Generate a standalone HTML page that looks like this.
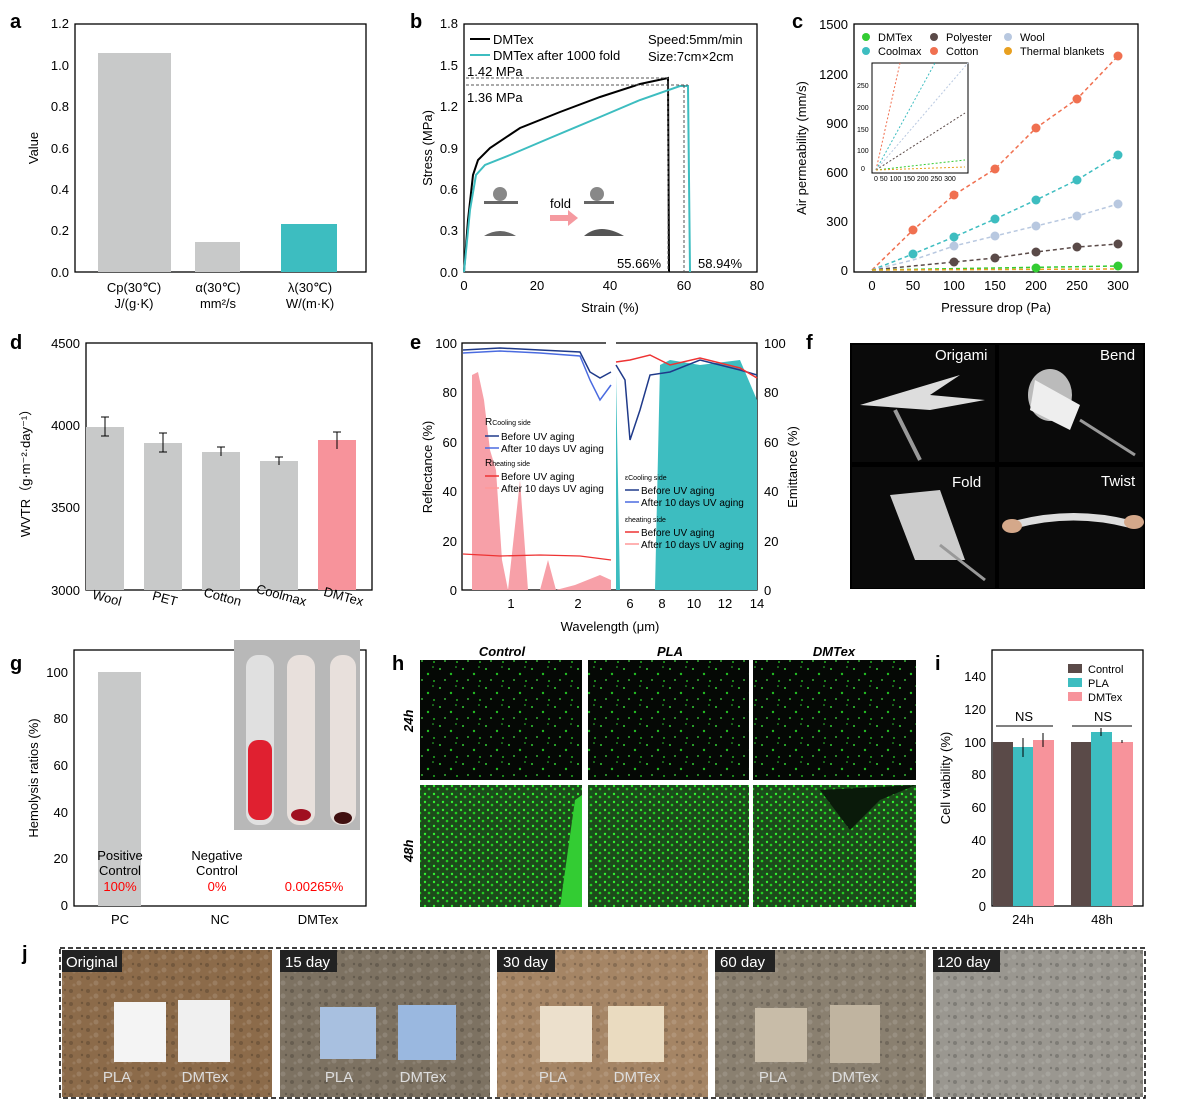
<!DOCTYPE html>
<html><head><meta charset="utf-8"><style>
body{margin:0;background:#fff}
svg{display:block;font-family:"Liberation Sans",Arial,sans-serif}
.t{font-size:13px}.s{font-size:11px}.L{font-size:20px;font-weight:bold}
</style></head><body>
<svg width="1187" height="1108" viewBox="0 0 1187 1108" xmlns="http://www.w3.org/2000/svg">
<defs>
<pattern id="sp" width="23" height="19" patternUnits="userSpaceOnUse">
<rect width="23" height="19" fill="#050805"/>
<circle cx="3" cy="4" r="1" fill="#3c3"/><circle cx="14" cy="9" r="1.2" fill="#2b2"/><circle cx="8" cy="15" r="0.9" fill="#4d4"/><circle cx="19" cy="2" r="0.8" fill="#3c3"/><circle cx="20" cy="16" r="1" fill="#2a2"/>
</pattern>
<pattern id="sp2" width="9" height="8" patternUnits="userSpaceOnUse">
<rect width="9" height="8" fill="#1d4a1a"/>
<circle cx="2" cy="2" r="1.2" fill="#3e3"/><circle cx="6" cy="5" r="1.3" fill="#2c2"/><circle cx="7" cy="1" r="0.8" fill="#062"/>
</pattern>
<pattern id="soil" width="17" height="13" patternUnits="userSpaceOnUse">
<rect width="17" height="13" fill="#000" fill-opacity="0"/>
<circle cx="3" cy="3" r="2" fill="#000" fill-opacity="0.18"/><circle cx="11" cy="8" r="2.5" fill="#fff" fill-opacity="0.12"/><circle cx="14" cy="2" r="1.2" fill="#000" fill-opacity="0.2"/><circle cx="6" cy="10" r="1.5" fill="#fff" fill-opacity="0.1"/>
</pattern>
</defs>
<g stroke="#000" fill="none" stroke-width="1.3">
<rect x="75" y="24" width="291" height="248"/>
<rect x="464" y="24" width="293" height="248"/>
<rect x="854" y="24" width="284" height="248"/>
<rect x="86" y="343" width="286" height="247"/>
<rect x="462" y="343" width="295" height="247"/>
<rect x="74" y="650" width="292" height="256"/>
<rect x="992" y="650" width="151" height="256"/>
</g>
<!-- a -->
<text x="10" y="28" class="L">a</text>
<rect x="98" y="53" width="73" height="219" fill="#c8c9c9"/>
<rect x="195" y="242" width="45" height="30" fill="#c8c9c9"/>
<rect x="281" y="224" width="56" height="48" fill="#3dbdc0"/>
<g class="t" text-anchor="end"><text x="69" y="28">1.2</text><text x="69" y="70">1.0</text><text x="69" y="111">0.8</text><text x="69" y="153">0.6</text><text x="69" y="194">0.4</text><text x="69" y="235">0.2</text><text x="69" y="277">0.0</text></g>
<text transform="translate(38,148) rotate(-90)" class="t" text-anchor="middle">Value</text>
<g class="t" text-anchor="middle"><text x="134" y="292">Cp(30℃)</text><text x="134" y="308">J/(g·K)</text><text x="218" y="292">α(30℃)</text><text x="218" y="308">mm²/s</text><text x="310" y="292">λ(30℃)</text><text x="310" y="308">W/(m·K)</text></g>
<!-- b -->
<text x="410" y="28" class="L">b</text>
<g class="t" text-anchor="end"><text x="458" y="28">1.8</text><text x="458" y="70">1.5</text><text x="458" y="111">1.2</text><text x="458" y="153">0.9</text><text x="458" y="194">0.6</text><text x="458" y="235">0.3</text><text x="458" y="277">0.0</text></g>
<g class="t" text-anchor="middle"><text x="464" y="290">0</text><text x="537" y="290">20</text><text x="610" y="290">40</text><text x="684" y="290">60</text><text x="757" y="290">80</text><text x="610" y="312">Strain (%)</text></g>
<text transform="translate(432,148) rotate(-90)" class="t" text-anchor="middle">Stress (MPa)</text>
<path d="M464 272 L468 220 L473 175 L478 160 L490 148 L520 128 L560 112 L600 97 L640 84 L668 78 L669 272" stroke="#000" stroke-width="2" fill="none"/>
<path d="M464 272 L470 210 L476 175 L485 165 L510 155 L550 138 L600 117 L640 100 L680 86 L688 86 L690 272" stroke="#3dbdc0" stroke-width="2" fill="none"/>
<g stroke="#555" stroke-dasharray="3,2" fill="none"><path d="M466 78H668V272M466 85H688M684 85V272"/></g>
<text x="467" y="76" class="t">1.42 MPa</text><text x="467" y="102" class="t">1.36 MPa</text>
<text x="617" y="268" class="t">55.66%</text><text x="698" y="268" class="t">58.94%</text>
<line x1="470" y1="39" x2="490" y2="39" stroke="#000" stroke-width="2"/><text x="493" y="44" class="t">DMTex</text>
<line x1="470" y1="55" x2="490" y2="55" stroke="#3dbdc0" stroke-width="2"/><text x="493" y="60" class="t">DMTex after 1000 fold</text>
<text x="648" y="44" class="t">Speed:5mm/min</text><text x="648" y="61" class="t">Size:7cm×2cm</text>
<circle cx="500" cy="194" r="7" fill="#888"/><rect x="484" y="201" width="34" height="3" fill="#666"/><path d="M484 236Q500 226 516 236Z" fill="#666"/>
<text x="550" y="208" class="t">fold</text><path d="M550 215h18v-5l10 8-10 8v-5h-18z" fill="#f59aa0"/>
<circle cx="597" cy="194" r="7" fill="#888"/><rect x="584" y="201" width="30" height="3" fill="#666"/><path d="M584 236Q600 222 624 236Z" fill="#555"/>
<!-- c -->
<text x="792" y="28" class="L">c</text>
<g class="t" text-anchor="end"><text x="848" y="29">1500</text><text x="848" y="79">1200</text><text x="848" y="128">900</text><text x="848" y="177">600</text><text x="848" y="226">300</text><text x="848" y="275">0</text></g>
<g class="t" text-anchor="middle"><text x="872" y="290">0</text><text x="913" y="290">50</text><text x="954" y="290">100</text><text x="995" y="290">150</text><text x="1036" y="290">200</text><text x="1077" y="290">250</text><text x="1118" y="290">300</text><text x="996" y="312">Pressure drop (Pa)</text></g>
<text transform="translate(806,148) rotate(-90)" class="t" text-anchor="middle">Air permeability (mm/s)</text>
<g stroke-dasharray="4,3" stroke-width="1.5" fill="none">
<path d="M872 270L913 230L954 195L995 169L1036 128L1077 99L1118 56" stroke="#f07050"/>
<path d="M872 270L913 254L954 237L995 219L1036 200L1077 180L1118 155" stroke="#3dbdc0"/>
<path d="M872 270L913 260L954 246L995 236L1036 226L1077 216L1118 204" stroke="#b8c8e0"/>
<path d="M872 270L913 266L954 262L995 258L1036 252L1077 247L1118 244" stroke="#5a4a48"/>
<path d="M872 270L1118 266" stroke="#3c3"/><path d="M872 270L1118 269" stroke="#e8a020"/>
</g>
<g><circle cx="913" cy="230" r="4.5" fill="#f07050"/><circle cx="954" cy="195" r="4.5" fill="#f07050"/><circle cx="995" cy="169" r="4.5" fill="#f07050"/><circle cx="1036" cy="128" r="4.5" fill="#f07050"/><circle cx="1077" cy="99" r="4.5" fill="#f07050"/><circle cx="1118" cy="56" r="4.5" fill="#f07050"/>
<circle cx="913" cy="254" r="4.5" fill="#3dbdc0"/><circle cx="954" cy="237" r="4.5" fill="#3dbdc0"/><circle cx="995" cy="219" r="4.5" fill="#3dbdc0"/><circle cx="1036" cy="200" r="4.5" fill="#3dbdc0"/><circle cx="1077" cy="180" r="4.5" fill="#3dbdc0"/><circle cx="1118" cy="155" r="4.5" fill="#3dbdc0"/>
<circle cx="954" cy="246" r="4.5" fill="#b8c8e0"/><circle cx="995" cy="236" r="4.5" fill="#b8c8e0"/><circle cx="1036" cy="226" r="4.5" fill="#b8c8e0"/><circle cx="1077" cy="216" r="4.5" fill="#b8c8e0"/><circle cx="1118" cy="204" r="4.5" fill="#b8c8e0"/>
<circle cx="954" cy="262" r="4.5" fill="#5a4a48"/><circle cx="995" cy="258" r="4.5" fill="#5a4a48"/><circle cx="1036" cy="252" r="4.5" fill="#5a4a48"/><circle cx="1077" cy="247" r="4.5" fill="#5a4a48"/><circle cx="1118" cy="244" r="4.5" fill="#5a4a48"/>
<circle cx="1118" cy="266" r="4.5" fill="#3c3"/><circle cx="1036" cy="268" r="4.5" fill="#3c3"/></g>
<rect x="872" y="63" width="96" height="110" fill="#fff" stroke="#000"/>
<g stroke-dasharray="2,2" fill="none"><path d="M876 170L900 63" stroke="#f07050"/><path d="M876 170L935 63" stroke="#3dbdc0"/><path d="M876 170L968 63" stroke="#b8c8e0"/><path d="M876 170L965 113" stroke="#5a4a48"/><path d="M876 170L965 160" stroke="#3c3"/><path d="M876 170L965 167" stroke="#e8a020"/></g>
<g style="font-size:7px"><text x="857" y="88">250</text><text x="857" y="110">200</text><text x="857" y="132">150</text><text x="857" y="153">100</text><text x="861" y="171">0</text><text x="874" y="181">0  50 100 150 200 250 300</text></g>
<g class="s"><circle cx="866" cy="37" r="4" fill="#3c3"/><text x="878" y="41">DMTex</text><circle cx="934" cy="37" r="4" fill="#5a4a48"/><text x="946" y="41">Polyester</text><circle cx="1008" cy="37" r="4" fill="#b8c8e0"/><text x="1020" y="41">Wool</text>
<circle cx="866" cy="51" r="4" fill="#3dbdc0"/><text x="878" y="55">Coolmax</text><circle cx="934" cy="51" r="4" fill="#f07050"/><text x="946" y="55">Cotton</text><circle cx="1008" cy="51" r="4" fill="#e8a020"/><text x="1020" y="55">Thermal blankets</text></g>
<!-- d -->
<text x="10" y="349" class="L">d</text>
<g class="t" text-anchor="end"><text x="80" y="348">4500</text><text x="80" y="430">4000</text><text x="80" y="512">3500</text><text x="80" y="595">3000</text></g>
<text transform="translate(30,470) rotate(-90)" class="t" text-anchor="middle">WVTR（g·m⁻²·day⁻¹）</text>
<g fill="#c8c9c9"><rect x="86" y="427" width="38" height="163"/><rect x="144" y="443" width="38" height="147"/><rect x="202" y="452" width="38" height="138"/><rect x="260" y="461" width="38" height="129"/></g>
<rect x="318" y="440" width="38" height="150" fill="#f7939b"/>
<g stroke="#000"><path d="M105 417v19M101 417h8M101 436h8M163 433v19M159 433h8M159 452h8M221 447v9M217 447h8M279 457v8M275 457h8M337 432v17M333 432h8"/></g>
<g class="t" text-anchor="end"><text transform="translate(120,606) rotate(15)">Wool</text><text transform="translate(176,606) rotate(15)">PET</text><text transform="translate(240,606) rotate(15)">Cotton</text><text transform="translate(305,606) rotate(15)">Coolmax</text><text transform="translate(362,606) rotate(15)">DMTex</text></g>
<!-- e -->
<text x="410" y="349" class="L">e</text>
<path d="M472 590V375L478 372L484 400L490 450L496 470L502 560L508 590L520 480L528 590L540 590L548 560L556 590L575 585L600 575L611 580V590Z" fill="#f7a0a8"/>
<path d="M616 590V375L620 590ZM655 590L660 365L670 360L700 365L740 360L757 400V590Z" fill="#3dbdc0"/>
<path d="M463 350L500 348L540 350L580 352L590 372L600 378L611 372" stroke="#1f3a8a" stroke-width="1.5" fill="none"/>
<path d="M463 353L500 351L540 353L580 356L590 380L600 400L611 385" stroke="#4a6be0" stroke-width="1.5" fill="none"/>
<path d="M463 554L500 556L540 555L580 556L611 560" stroke="#e33" stroke-width="1.3" fill="none"/>
<path d="M616 365L625 380L630 440L640 410L650 375L670 372L700 360L740 370L757 375" stroke="#1f3a8a" stroke-width="1.5" fill="none"/>
<path d="M616 362L630 360L650 355L670 365L700 358L740 368L757 378" stroke="#e33" stroke-width="1.5" fill="none"/>
<rect x="606" y="335" width="10" height="14" fill="#fff"/>
<g class="t" text-anchor="end"><text x="457" y="348">100</text><text x="457" y="397">80</text><text x="457" y="447">60</text><text x="457" y="496">40</text><text x="457" y="546">20</text><text x="457" y="595">0</text></g>
<g class="t"><text x="764" y="348">100</text><text x="764" y="397">80</text><text x="764" y="447">60</text><text x="764" y="496">40</text><text x="764" y="546">20</text><text x="764" y="595">0</text></g>
<g class="t" text-anchor="middle"><text x="511" y="608">1</text><text x="578" y="608">2</text><text x="630" y="608">6</text><text x="662" y="608">8</text><text x="694" y="608">10</text><text x="725" y="608">12</text><text x="757" y="608">14</text><text x="610" y="631">Wavelength (μm)</text></g>
<text transform="translate(432,467) rotate(-90)" class="t" text-anchor="middle">Reflectance (%)</text>
<text transform="translate(797,467) rotate(-90)" class="t" text-anchor="middle">Emittance (%)</text>
<g style="font-size:10px"><text x="485" y="425">R<tspan style="font-size:7px">Cooling side</tspan></text><text x="501" y="440">Before UV aging</text><text x="501" y="452">After 10 days UV aging</text>
<text x="485" y="466">R<tspan style="font-size:7px">heating side</tspan></text><text x="501" y="480">Before UV aging</text><text x="501" y="492">After 10 days UV aging</text>
<text x="625" y="480" style="font-size:7px">εCooling side</text><text x="641" y="494">Before UV aging</text><text x="641" y="506">After 10 days UV aging</text>
<text x="625" y="522" style="font-size:7px">εheating side</text><text x="641" y="536">Before UV aging</text><text x="641" y="548">After 10 days UV aging</text></g>
<g stroke-width="1.5"><path d="M485 436h14" stroke="#1f3a8a"/><path d="M485 448h14" stroke="#4a6be0"/><path d="M485 476h14" stroke="#e33"/><path d="M485 488h14" stroke="#f99"/><path d="M625 490h14" stroke="#1f3a8a"/><path d="M625 502h14" stroke="#4a6be0"/><path d="M625 532h14" stroke="#e33"/><path d="M625 544h14" stroke="#f99"/></g>
<!-- f -->
<text x="806" y="349" class="L">f</text>
<rect x="850" y="343" width="295" height="246" fill="#000"/>
<rect x="852" y="345" width="143" height="117" fill="#0a0a0a"/><rect x="999" y="345" width="144" height="117" fill="#0a0a0a"/><rect x="852" y="467" width="143" height="121" fill="#0a0a0a"/><rect x="999" y="467" width="144" height="121" fill="#0a0a0a"/>
<path d="M860 405L960 375L930 395L985 400L930 410Z" fill="#ddd"/><path d="M895 410L920 460" stroke="#999" stroke-width="4"/>
<ellipse cx="1050" cy="395" rx="22" ry="26" fill="#bbb"/><path d="M1035 380L1080 405L1070 430L1030 410Z" fill="#eee"/><path d="M1080 420L1135 455" stroke="#999" stroke-width="3"/>
<path d="M890 495L940 490L965 560L915 560Z" fill="#ccc"/><path d="M940 545L985 580" stroke="#999" stroke-width="3"/>
<path d="M1010 522Q1070 505 1130 520L1130 528Q1070 512 1010 530Z" fill="#ddd"/><ellipse cx="1012" cy="526" rx="10" ry="7" fill="#d4a88a"/><ellipse cx="1134" cy="522" rx="10" ry="7" fill="#d4a88a"/>
<g class="t" fill="#fff" style="font-size:15px"><text x="935" y="360">Origami</text><text x="1100" y="360">Bend</text><text x="952" y="487">Fold</text><text x="1101" y="486">Twist</text></g>
<!-- g -->
<text x="10" y="670" class="L">g</text>
<g class="t" text-anchor="end"><text x="68" y="677">100</text><text x="68" y="723">80</text><text x="68" y="770">60</text><text x="68" y="817">40</text><text x="68" y="863">20</text><text x="68" y="910">0</text></g>
<text transform="translate(38,778) rotate(-90)" class="t" text-anchor="middle">Hemolysis ratios (%)</text>
<rect x="98" y="672" width="43" height="234" fill="#c8c9c9"/>
<rect x="234" y="640" width="126" height="190" fill="#b8b8b8"/>
<rect x="246" y="655" width="28" height="170" rx="12" fill="#e0e0e0"/><rect x="248" y="740" width="24" height="80" rx="10" fill="#e02030"/>
<rect x="287" y="655" width="28" height="170" rx="12" fill="#e8e0dc"/><ellipse cx="301" cy="815" rx="10" ry="6" fill="#a01020"/>
<rect x="330" y="655" width="26" height="170" rx="12" fill="#e8e0dc"/><ellipse cx="343" cy="818" rx="9" ry="6" fill="#401010"/>
<g class="t" text-anchor="middle"><text x="120" y="860">Positive</text><text x="120" y="875">Control</text><text x="217" y="860">Negative</text><text x="217" y="875">Control</text><text x="120" y="924">PC</text><text x="220" y="924">NC</text><text x="318" y="924">DMTex</text></g>
<g class="t" text-anchor="middle" fill="#f00"><text x="120" y="891">100%</text><text x="217" y="891">0%</text><text x="314" y="891">0.00265%</text></g>
<!-- h -->
<text x="392" y="670" class="L">h</text>
<g class="t" font-weight="bold" font-style="italic" text-anchor="middle"><text x="502" y="656">Control</text><text x="670" y="656">PLA</text><text x="834" y="656">DMTex</text></g>
<rect x="420" y="660" width="162" height="120" fill="url(#sp)"/><rect x="588" y="660" width="161" height="120" fill="url(#sp)"/><rect x="753" y="660" width="163" height="120" fill="url(#sp)"/>
<rect x="420" y="785" width="162" height="122" fill="url(#sp2)"/><rect x="588" y="785" width="161" height="122" fill="url(#sp2)"/><rect x="753" y="785" width="163" height="122" fill="url(#sp2)"/>
<path d="M560 907L575 800L582 795L582 907Z" fill="#3c3"/><path d="M820 790L850 830L880 800L916 785Z" fill="#0a1a0a"/>
<g class="t" font-weight="bold" font-style="italic"><text transform="translate(413,732) rotate(-90)">24h</text><text transform="translate(413,862) rotate(-90)">48h</text></g>
<!-- i -->
<text x="935" y="670" class="L">i</text>
<g class="t" text-anchor="end"><text x="986" y="681">140</text><text x="986" y="714">120</text><text x="986" y="747">100</text><text x="986" y="779">80</text><text x="986" y="812">60</text><text x="986" y="845">40</text><text x="986" y="878">20</text><text x="986" y="911">0</text></g>
<text transform="translate(950,778) rotate(-90)" class="t" text-anchor="middle">Cell viability (%)</text>
<rect x="993" y="742" width="20" height="164" fill="#5a4a48"/><rect x="1013" y="747" width="20" height="159" fill="#3dbdc0"/><rect x="1033" y="740" width="21" height="166" fill="#f7939b"/>
<rect x="1071" y="742" width="20" height="164" fill="#5a4a48"/><rect x="1091" y="732" width="21" height="174" fill="#3dbdc0"/><rect x="1112" y="742" width="21" height="164" fill="#f7939b"/>
<g stroke="#000"><path d="M1023 738v19M1043 733v14M1101 728v8M1122 740v3M996 726h57M1072 726h60"/></g>
<g class="t" text-anchor="middle"><text x="1024" y="721">NS</text><text x="1103" y="721">NS</text><text x="1023" y="924">24h</text><text x="1102" y="924">48h</text></g>
<g class="s"><rect x="1068" y="664" width="14" height="9" fill="#5a4a48"/><text x="1088" y="673">Control</text><rect x="1068" y="678" width="14" height="9" fill="#3dbdc0"/><text x="1088" y="687">PLA</text><rect x="1068" y="692" width="14" height="9" fill="#f7939b"/><text x="1088" y="701">DMTex</text></g>
<!-- j -->
<text x="22" y="960" class="L">j</text>
<rect x="60" y="948" width="1085" height="150" fill="none" stroke="#000" stroke-dasharray="5,3" stroke-width="1.5"/>
<rect x="62" y="950" width="210" height="147" fill="#8c6b4a"/><rect x="280" y="950" width="210" height="147" fill="#7d7262"/><rect x="497" y="950" width="211" height="147" fill="#a58565"/><rect x="715" y="950" width="211" height="147" fill="#8a8070"/><rect x="933" y="950" width="210" height="147" fill="#9a9790"/>
<g fill="url(#soil)"><rect x="62" y="950" width="210" height="147"/><rect x="280" y="950" width="210" height="147"/><rect x="497" y="950" width="211" height="147"/><rect x="715" y="950" width="211" height="147"/><rect x="933" y="950" width="210" height="147"/></g>
<rect x="114" y="1002" width="52" height="60" fill="#f4f4f4"/><rect x="178" y="1000" width="52" height="62" fill="#f0f0f0"/>
<rect x="320" y="1007" width="56" height="52" fill="#a8c0e0"/><rect x="398" y="1005" width="58" height="55" fill="#9ab8e0"/>
<rect x="540" y="1006" width="52" height="56" fill="#ece0cc"/><rect x="608" y="1006" width="56" height="56" fill="#eadbc0"/>
<rect x="755" y="1008" width="52" height="54" fill="#c8bca8"/><rect x="830" y="1005" width="50" height="58" fill="#c0b4a0"/>
<g fill="#fff" style="font-size:15px"><rect x="62" y="950" width="60" height="22" fill="#222"/><text x="66" y="967">Original</text>
<rect x="280" y="950" width="57" height="22" fill="#222"/><text x="285" y="967">15 day</text>
<rect x="497" y="950" width="58" height="22" fill="#222"/><text x="503" y="967">30 day</text>
<rect x="715" y="950" width="60" height="22" fill="#222"/><text x="720" y="967">60 day</text>
<rect x="933" y="950" width="67" height="22" fill="#222"/><text x="937" y="967">120 day</text></g>
<g fill="#ddd" style="font-size:15px" text-anchor="middle"><text x="117" y="1082">PLA</text><text x="205" y="1082">DMTex</text><text x="339" y="1082">PLA</text><text x="423" y="1082">DMTex</text><text x="553" y="1082">PLA</text><text x="637" y="1082">DMTex</text><text x="773" y="1082">PLA</text><text x="855" y="1082">DMTex</text></g>
</svg>
</body></html>
